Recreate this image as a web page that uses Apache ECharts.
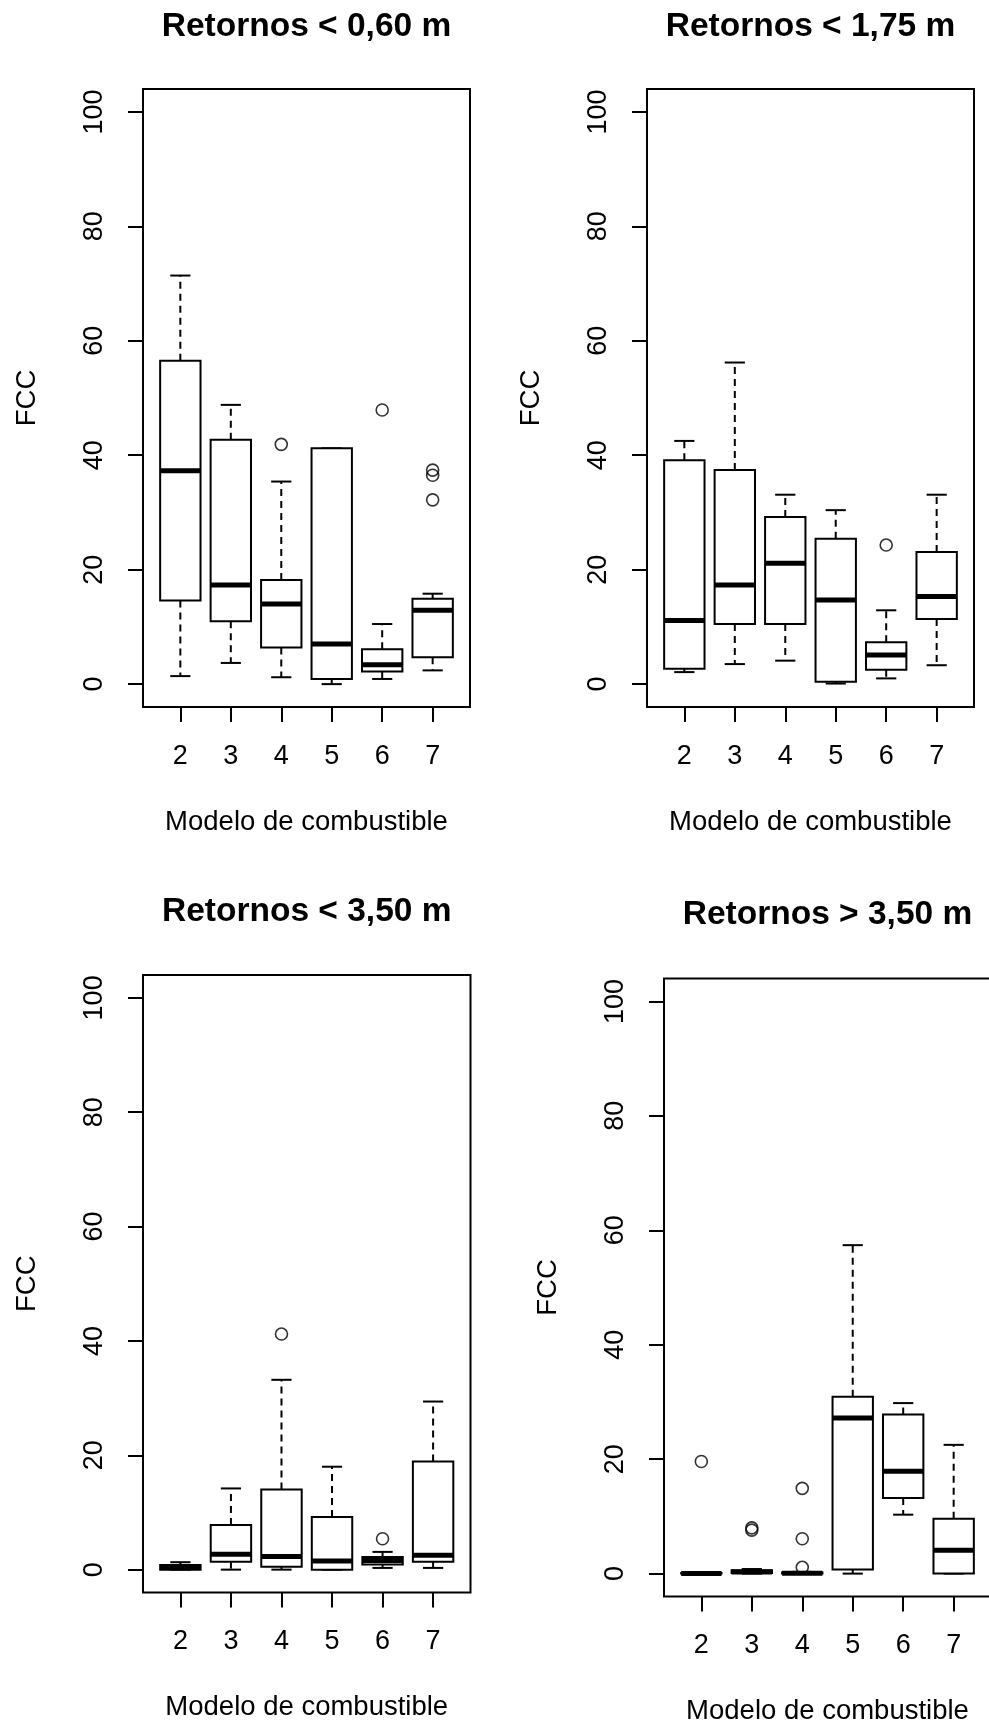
<!DOCTYPE html>
<html>
<head>
<meta charset="utf-8">
<script src="https://cdn.jsdelivr.net/npm/echarts@6/dist/echarts.min.js"></script>
<style>
  html, body { margin: 0; padding: 0; background: #fff; }
  #chart { width: 989px; height: 1727px; }
</style>
</head>
<body>
<div id="chart"></div>
<script>
// categorias (modelo de combustible)
var categories = ['2', '3', '4', '5', '6', '7'];
var titles = ['Retornos < 0,60 m', 'Retornos < 1,75 m', 'Retornos < 3,50 m', 'Retornos > 3,50 m'];
var yTicks = [0, 20, 40, 60, 80, 100];

// [bigote inf, Q1, mediana, Q3, bigote sup] por modelo
var stats060 = [[1.4, 14.6, 37.3, 56.5, 71.4], [3.7, 11.0, 17.3, 42.7, 48.8], [1.2, 6.4, 14.0, 18.2, 35.4],
                [0.0, 0.9, 7.0, 41.2, 41.2], [0.9, 2.2, 3.4, 6.1, 10.5], [2.4, 4.7, 12.9, 14.9, 15.8]];
var out060 = [['4', 41.9], ['6', 47.9], ['7', 37.4], ['7', 36.5], ['7', 32.2]];

var stats175 = [[2.1, 2.7, 11.1, 39.1, 42.5], [3.5, 10.5, 17.3, 37.4, 56.2], [4.1, 10.5, 21.1, 29.2, 33.1],
                [0.1, 0.4, 14.7, 25.4, 30.4], [1.0, 2.5, 5.1, 7.3, 12.9], [3.3, 11.4, 15.3, 23.1, 33.1]];
var out175 = [['6', 24.3]];

var stats350 = [[0.0, 0.0, 0.4, 0.8, 1.3], [0.0, 1.4, 2.7, 7.8, 14.2], [0.0, 0.5, 2.3, 14.0, 33.2],
                [0.0, 0.0, 1.5, 9.2, 18.0], [0.3, 0.9, 1.6, 2.2, 3.1], [0.3, 1.4, 2.5, 18.9, 29.4]];
var out350 = [['4', 41.2], ['6', 5.4]];

var statsGt350 = [[0.0, 0.0, 0.0, 0.1, 0.1], [0.0, 0.1, 0.3, 0.6, 0.8], [0.0, 0.0, 0.05, 0.2, 0.3],
                  [0.0, 0.7, 27.2, 30.9, 57.4], [10.3, 13.2, 17.9, 27.8, 29.8], [0.0, 0.0, 4.1, 9.6, 22.5]];
var outGt350 = [['2', 19.6], ['3', 8.0], ['3', 7.6], ['4', 14.9], ['4', 6.1], ['4', 1.1]];

var panelStats = [stats060, stats175, stats350, statsGt350];
var panelOut = [out060, out175, out350, outGt350];

// marco de cada panel: left, top, width, height / y del titulo
var frames = [[143, 89, 327, 618], [647, 89, 327, 618], [143, 975, 327.5, 617.5], [664, 978.5, 327, 618]];
var titleY = [27, 27, 912, 915];

var FONT = '"Liberation Sans", Arial, sans-serif';

function renderBox(params, api) {
    var x = api.value(0);
    var lo = api.coord([x, api.value(1)]);
    var q1 = api.coord([x, api.value(2)]);
    var md = api.coord([x, api.value(3)]);
    var q3 = api.coord([x, api.value(4)]);
    var hi = api.coord([x, api.value(5)]);
    var bw = api.size([0.8, 0])[0];
    var cx = lo[0];
    var cw = bw / 4;
    var dash = { stroke: '#000', lineWidth: 2, lineDash: [7, 5] };
    var solid = { stroke: '#000', lineWidth: 2 };
    return {
        type: 'group',
        children: [
            { type: 'line', shape: { x1: cx, y1: q3[1], x2: cx, y2: hi[1] }, style: dash },
            { type: 'line', shape: { x1: cx, y1: q1[1], x2: cx, y2: lo[1] }, style: dash },
            { type: 'line', shape: { x1: cx - cw, y1: hi[1], x2: cx + cw, y2: hi[1] }, style: solid },
            { type: 'line', shape: { x1: cx - cw, y1: lo[1], x2: cx + cw, y2: lo[1] }, style: solid },
            { type: 'rect', shape: { x: cx - bw / 2, y: q3[1], width: bw, height: q1[1] - q3[1] },
              style: { fill: '#fff', stroke: '#000', lineWidth: 2 } },
            { type: 'line', shape: { x1: cx - bw / 2, y1: md[1], x2: cx + bw / 2, y2: md[1] },
              style: { stroke: '#000', lineWidth: 5 } }
        ]
    };
}

var grids = [], xAxes = [], yAxes = [], series = [], graphics = [];
var idx = categories.map(function (c, i) { return i; });

for (var p = 0; p < 4; p++) {
    var f = frames[p];
    grids.push({
        left: f[0], top: f[1], width: f[2], height: f[3],
        show: true, borderColor: '#000', borderWidth: 2, backgroundColor: 'transparent',
        containLabel: false, outerBoundsMode: 'none'
    });
    xAxes.push({
        type: 'value', gridIndex: p, min: -0.74, max: 5.74,
        name: 'Modelo de combustible', nameLocation: 'middle', nameGap: 101,
        nameTextStyle: { color: '#000', fontSize: 27.5, fontFamily: FONT },
        splitLine: { show: false },
        axisLine: { show: false, onZero: false },
        axisTick: { show: true, length: 15, customValues: idx, lineStyle: { color: '#000', width: 2 } },
        axisLabel: {
            customValues: idx, margin: 36, color: '#000', fontSize: 27, fontFamily: FONT,
            formatter: function (v) { return categories[Math.round(v)]; }
        }
    });
    yAxes.push({
        type: 'value', gridIndex: p, min: -4, max: 104,
        name: 'FCC', nameLocation: 'middle', nameGap: 102, nameRotate: 90,
        nameTextStyle: { color: '#000', fontSize: 27.5, fontFamily: FONT },
        splitLine: { show: false },
        axisLine: { show: false, onZero: false },
        axisTick: { show: true, length: 15, customValues: yTicks, lineStyle: { color: '#000', width: 2 } },
        axisLabel: { customValues: yTicks, rotate: 90, margin: 35, color: '#000', fontSize: 27, fontFamily: FONT }
    });
    series.push({
        type: 'custom', xAxisIndex: p, yAxisIndex: p,
        renderItem: renderBox,
        encode: { x: 0, y: [1, 2, 3, 4, 5] },
        data: panelStats[p].map(function (s, i) { return [i].concat(s); })
    });
    series.push({
        type: 'scatter', xAxisIndex: p, yAxisIndex: p,
        symbol: 'circle', symbolSize: 12,
        itemStyle: { color: 'rgba(0,0,0,0)', borderColor: '#000', borderWidth: 1.6 },
        data: panelOut[p].map(function (o) { return [categories.indexOf(o[0]), o[1]]; })
    });
    graphics.push({
        type: 'text', x: f[0] + f[2] / 2, y: titleY[p],
        style: {
            text: titles[p], fill: '#000', font: 'bold 33.5px ' + FONT,
            align: 'center', verticalAlign: 'middle'
        }
    });
}

var chart = echarts.init(document.getElementById('chart'));
chart.setOption({
    animation: false,
    backgroundColor: '#fff',
    grid: grids,
    xAxis: xAxes,
    yAxis: yAxes,
    series: series,
    graphic: graphics
});
</script>
</body>
</html>
